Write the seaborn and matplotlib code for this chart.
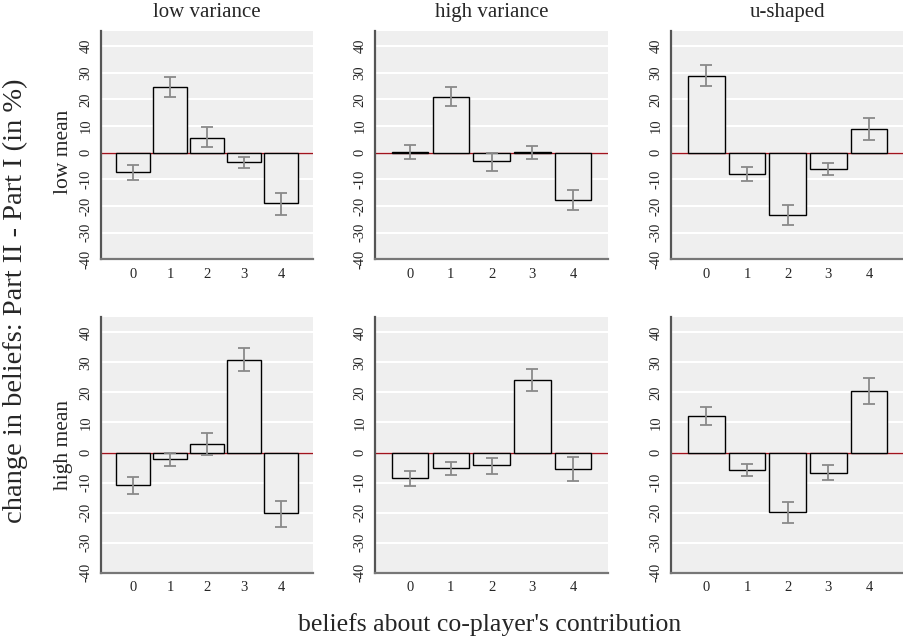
"""Change in beliefs by treatment: 2x3 grid of bar charts"""
import matplotlib
matplotlib.use('Agg')
import matplotlib.pyplot as plt
import pandas as pd
import seaborn as sns

beliefs = ['0', '1', '2', '3', '4']
col_titles = ['low variance', 'high variance', 'u-shaped']
row_titles = ['low mean', 'high mean']

#Mean change and CI bounds, one list per column (low var, high var, u-shaped)
low_mean = [[-7.3, 24.5, 5.6, -3.5, -19.0],
            [0.2, 21.0, -3.3, 0.1, -17.6],
            [28.9, -8.0, -23.3, -6.0, 9.0]]
low_mean_lo = [[-10.2, 21.0, 2.1, -5.7, -23.2],
               [-2.4, 17.7, -7.0, -2.5, -21.5],
               [24.9, -10.7, -27.1, -8.4, 4.9]]
low_mean_hi = [[-4.6, 28.4, 9.5, -1.5, -15.1],
               [2.7, 24.6, 0.0, 2.5, -14.0],
               [33.0, -5.4, -19.5, -4.0, 13.1]]

high_mean = [[-10.9, -2.0, 2.8, 30.9, -20.2],
             [-8.6, -5.1, -4.2, 24.0, -5.4],
             [12.2, -5.7, -19.9, -6.7, 20.4]]
high_mean_lo = [[-13.7, -4.4, -0.8, 27.2, -24.8],
                [-11.3, -7.4, -7.1, 20.6, -9.6],
                [9.3, -7.9, -23.6, -9.3, 16.1]]
high_mean_hi = [[-8.3, -0.1, 6.4, 34.8, -16.1],
                [-6.0, -3.1, -1.7, 27.7, -1.6],
                [15.3, -3.7, -16.6, -4.3, 24.9]]

sns.set_style('white')
plt.rcParams['font.family'] = ['Liberation Serif', 'DejaVu Serif']

bg = '#efefef'
fig = plt.figure(figsize=(9.04, 6.43), dpi=100)

#Axes boxes in figure fractions [left, width] per column and [bottom, height, ymax] per row
cols = [(0.1117, 0.2342), (0.4145, 0.2581), (0.7423, 0.2577)]
rows = [(0.5967, 0.3557, 45.8), (0.1093, 0.3972, 45.0)]

row_data = [(low_mean, low_mean_lo, low_mean_hi),
            (high_mean, high_mean_lo, high_mean_hi)]

for r, (means, los, his) in enumerate(row_data):
    bottom, height, ymax = rows[r]
    for c in range(3):
        left, width = cols[c]
        ax = fig.add_axes([left, bottom, width, height])
        df = pd.DataFrame({'belief': beliefs, 'change': means[c]})
        ax.set_facecolor(bg)
        ax.set_axisbelow(True)
        ax.yaxis.grid(True, color='white', linewidth=1.5)
        ax.axhline(0, color='#a0141e', linewidth=1, zorder=0.8)
        sns.barplot(data=df, x='belief', y='change', order=beliefs, ax=ax,
                    color=bg, saturation=1, edgecolor='black', linewidth=1,
                    width=0.9, errorbar=None)
        yerr = [[m - lo for m, lo in zip(means[c], los[c])],
                [hi - m for m, hi in zip(means[c], his[c])]]
        ax.errorbar(x=range(len(beliefs)), y=means[c], yerr=yerr, fmt='none',
                    ecolor='#8a8a8a', elinewidth=1.3, capsize=4, capthick=1.3)
        ax.set_xlim(-0.87, 4.86)
        ax.set_ylim(-40, ymax)
        ax.set_yticks(range(-40, 41, 10))
        ax.set_yticklabels([str(v) for v in range(-40, 41, 10)],
                           rotation=90, va='center', fontsize=10.5)
        ax.tick_params(axis='y', length=4, width=1, color='#333333', pad=2)
        ax.tick_params(axis='x', length=3, width=1, color='#555555',
                       labelsize=10.5, pad=3)
        ax.set_xlabel('')
        ax.set_ylabel('')
        for side in ['top', 'right']:
            ax.spines[side].set_visible(False)
        ax.spines['left'].set_color('#555555')
        ax.spines['left'].set_linewidth(1.6)
        ax.spines['bottom'].set_color('#777777')
        ax.spines['bottom'].set_linewidth(1.6)
        if r == 0:
            fig.text(left + width / 2, 0.981, col_titles[c], ha='center',
                     va='center', fontsize=15)

fig.text(0.0697, 0.7636, row_titles[0], rotation=90, ha='center', va='center',
         fontsize=15.5)
fig.text(0.0697, 0.308, row_titles[1], rotation=90, ha='center', va='center',
         fontsize=15.5)
fig.text(0.0166, 0.533, 'change in beliefs: Part II - Part I (in %)',
         rotation=90, ha='center', va='center', fontsize=20.5)
fig.text(0.542, 0.028, "beliefs about co-player's contribution",
         ha='center', va='center', fontsize=18.5)

plt.savefig('out.png', dpi=100, facecolor='white')
